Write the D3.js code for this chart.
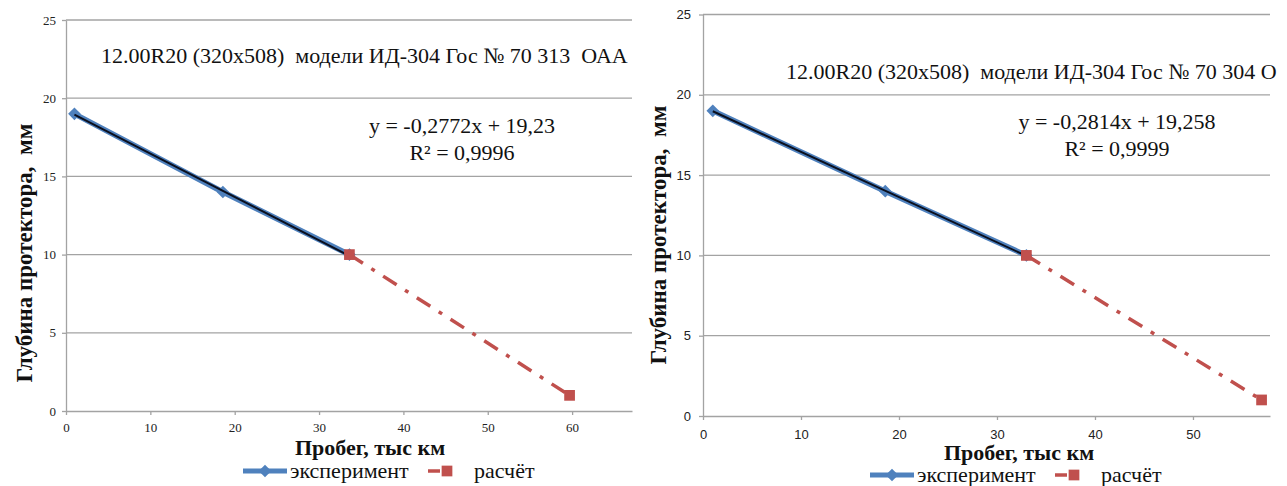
<!DOCTYPE html>
<html>
<head>
<meta charset="utf-8">
<script src="https://cdn.jsdelivr.net/npm/d3@7"></script>
<style>
  body { margin: 0; background: #fff; }
  svg { display: block; }
</style>
</head>
<body>
<div id="chart"></div>
<script>
// Left chart: tyre Гос № 70 313 ОАА
var mileageExpA = [1, 18.6, 33.6];
var depthExpA = [19, 14, 10];
var mileageCalcA = [33.6, 59.7];
var depthCalcA = [10, 1];
var trendA = [-0.2772, 19.23];          // slope, intercept
var eqTextA = ["y = -0,2772x + 19,23", "R² = 0,9996"];
var titleA = "12.00R20 (320x508)  модели ИД-304 Гос № 70 313  ОАА";
var xTicksA = [0, 10, 20, 30, 40, 50, 60];

// Right chart: tyre Гос № 70 304 О.. (title runs off the right edge)
var mileageExpB = [1, 18.6, 33];
var depthExpB = [19, 14, 10];
var mileageCalcB = [33, 57];
var depthCalcB = [10, 1];
var trendB = [-0.2814, 19.258];
var eqTextB = ["y = -0,2814x + 19,258", "R² = 0,9999"];
var titleB = "12.00R20 (320x508)  модели ИД-304 Гос № 70 304 О";
var xTicksB = [0, 10, 20, 30, 40, 50];

var yTicks = [0, 5, 10, 15, 20, 25];
var yLabel = "Глубина протектора,  мм";
var xLabel = "Пробег, тыс км";
var legendNames = ["эксперимент", "расчёт"];

var svgWidth = 1287;
var svgHeight = 486;

var blue = "#4f81bd";
var red = "#c0504d";
var grid = "#a3a3a3";
var serif = "'Liberation Serif', 'Times New Roman', serif";
var sans = "'Liberation Sans', Arial, sans-serif";

var svg = d3.select("#chart")
    .append("svg")
    .attr("width", svgWidth)
    .attr("height", svgHeight);

// one chart panel
function drawPanel(p) {
    var x = d3.scaleLinear().domain([0, p.xMax]).range([p.left, p.right]);
    var y = d3.scaleLinear().domain([0, 25]).range([p.bottom, p.top]);
    var g = svg.append("g");

    // horizontal gridlines
    g.selectAll(".grid")
        .data(yTicks.filter(d => d > 0))
        .enter()
        .append("line")
        .attr("x1", p.left).attr("x2", p.right)
        .attr("y1", d => y(d)).attr("y2", d => y(d))
        .attr("stroke", grid)
        .attr("stroke-width", 1.3);

    // axes
    var bottomAxis = d3.axisBottom(x).tickValues(p.xTicks).tickSize(4).tickSizeOuter(0);
    var leftAxis = d3.axisLeft(y).tickValues(yTicks).tickSize(4).tickSizeOuter(0);

    var xg = g.append("g")
        .attr("transform", `translate(0, ${p.bottom})`)
        .call(bottomAxis);
    var yg = g.append("g")
        .attr("transform", `translate(${p.left}, 0)`)
        .call(leftAxis);

    [xg, yg].forEach(function(a) {
        a.select(".domain").attr("stroke", grid).attr("stroke-width", 1.3);
        a.selectAll(".tick line").attr("stroke", grid).attr("stroke-width", 1.3);
        a.selectAll(".tick text")
            .attr("fill", "#222")
            .style("font-family", p.tickFont)
            .style("font-size", p.tickSize + "px");
    });
    xg.selectAll(".tick text").attr("y", p.xTickDy).attr("dy", "0.71em");
    yg.selectAll(".tick text").attr("x", -p.yTickDx);

    // title inside the plot
    g.append("text")
        .attr("x", p.titleX)
        .attr("y", p.titleY)
        .style("font-family", serif)
        .style("font-size", "22px")
        .style("white-space", "pre")
        .attr("fill", "#111")
        .text(p.title);

    // experiment series
    var expData = p.mx.map((d, i) => ({x: d, y: p.my[i]}));
    var calcData = p.cx.map((d, i) => ({x: d, y: p.cy[i]}));
    var line = d3.line().x(d => x(d.x)).y(d => y(d.y));

    g.append("path")
        .datum(expData)
        .attr("d", line)
        .attr("fill", "none")
        .attr("stroke", blue)
        .attr("stroke-width", 5.5);

    g.selectAll(".diamond")
        .data(expData)
        .enter()
        .append("path")
        .attr("d", d3.symbol(d3.symbolSquare, 80)())
        .attr("transform", d => `translate(${x(d.x)}, ${y(d.y)}) rotate(45)`)
        .attr("fill", blue);

    // linear trendline over the experiment range
    var tx = d3.extent(p.mx);
    var trendData = tx.map(d => ({x: d, y: p.trend[0] * d + p.trend[1]}));
    g.append("path")
        .datum(trendData)
        .attr("d", line)
        .attr("fill", "none")
        .attr("stroke", "#0a0f1e")
        .attr("stroke-width", 2);

    // calculated series
    g.append("path")
        .datum(calcData)
        .attr("d", line)
        .attr("fill", "none")
        .attr("stroke", red)
        .attr("stroke-width", 3.5)
        .attr("stroke-dasharray", "16,10,4,10");

    g.selectAll(".square")
        .data(calcData)
        .enter()
        .append("path")
        .attr("d", d3.symbol(d3.symbolSquare, 115)())
        .attr("transform", d => `translate(${x(d.x)}, ${y(d.y)})`)
        .attr("fill", red);

    // trendline equation
    g.selectAll(".eq")
        .data(p.eq)
        .enter()
        .append("text")
        .attr("x", p.eqX)
        .attr("y", (d, i) => p.eqY + i * 27)
        .attr("text-anchor", "middle")
        .style("font-family", serif)
        .style("font-size", "22px")
        .attr("fill", "#111")
        .text(d => d);

    // axis titles
    g.append("text")
        .attr("transform", `translate(${p.yLabelX}, ${p.yLabelY}) rotate(-90)`)
        .attr("text-anchor", "middle")
        .style("font-family", serif)
        .style("font-weight", "bold")
        .style("font-size", "23px")
        .style("white-space", "pre")
        .attr("fill", "#111")
        .text(yLabel);

    g.append("text")
        .attr("x", p.xLabelX)
        .attr("y", p.xLabelY)
        .attr("text-anchor", "middle")
        .style("font-family", serif)
        .style("font-weight", "bold")
        .style("font-size", "22px")
        .attr("fill", "#111")
        .text(xLabel);

    // legend
    var lg = g.append("g").attr("transform", `translate(${p.legendX}, ${p.legendY})`);
    lg.append("line")
        .attr("x1", 0).attr("x2", 44)
        .attr("stroke", blue).attr("stroke-width", 5);
    lg.append("path")
        .attr("d", d3.symbol(d3.symbolSquare, 80)())
        .attr("transform", "translate(22, 0) rotate(45)")
        .attr("fill", blue);
    lg.append("text")
        .attr("x", 47).attr("y", 7)
        .style("font-family", serif)
        .style("font-size", "22px")
        .attr("fill", "#111")
        .text(legendNames[0]);
    lg.append("line")
        .attr("x1", 185).attr("x2", 226)
        .attr("stroke", red).attr("stroke-width", 3.5)
        .attr("stroke-dasharray", "12,60");
    lg.append("path")
        .attr("d", d3.symbol(d3.symbolSquare, 115)())
        .attr("transform", "translate(204, 0)")
        .attr("fill", red);
    lg.append("text")
        .attr("x", 231).attr("y", 7)
        .style("font-family", serif)
        .style("font-size", "22px")
        .attr("fill", "#111")
        .text(legendNames[1]);
}

drawPanel({
    left: 66, right: 632, top: 20, bottom: 411, xMax: 67.1,
    xTicks: xTicksA, tickFont: serif, tickSize: 13, xTickDy: 12, yTickDx: 10,
    mx: mileageExpA, my: depthExpA, cx: mileageCalcA, cy: depthCalcA,
    trend: trendA, eq: eqTextA, eqX: 462, eqY: 133,
    title: titleA, titleX: 101, titleY: 63,
    yLabelX: 32, yLabelY: 253, xLabelX: 370, xLabelY: 455,
    legendX: 243, legendY: 471
});

drawPanel({
    left: 703, right: 1270, top: 14.5, bottom: 416, xMax: 57.86,
    xTicks: xTicksB, tickFont: sans, tickSize: 13, xTickDy: 14, yTickDx: 12,
    mx: mileageExpB, my: depthExpB, cx: mileageCalcB, cy: depthCalcB,
    trend: trendB, eq: eqTextB, eqX: 1117, eqY: 129,
    title: titleB, titleX: 786, titleY: 79,
    yLabelX: 666, yLabelY: 235, xLabelX: 1019, xLabelY: 460,
    legendX: 870, legendY: 475
});
</script>
</body>
</html>
